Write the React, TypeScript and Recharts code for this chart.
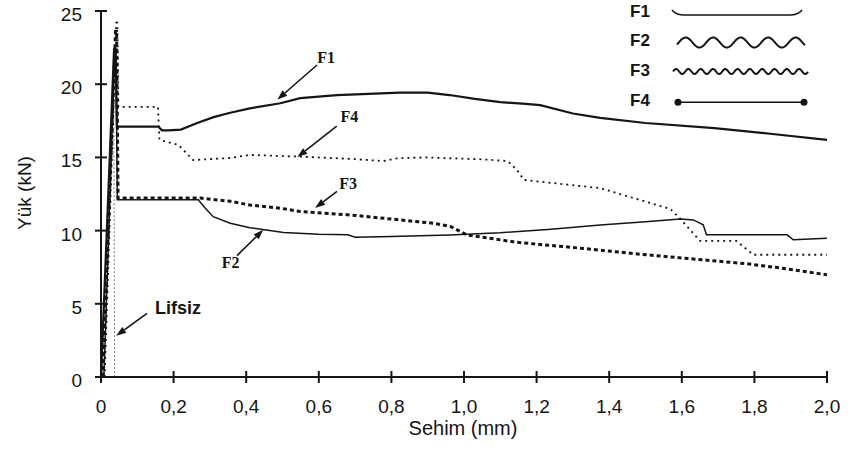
import { LineChart, Line, XAxis, YAxis, ReferenceLine } from "recharts";

// load–deflection curves, x = Sehim (mm), y = Yük (kN)
const F1 = [
  { x: 0, y: 0 }, { x: 0.036, y: 22.4 }, { x: 0.04, y: 22.4 }, { x: 0.044, y: 17.1 },
  { x: 0.158, y: 17.1 }, { x: 0.168, y: 16.85 }, { x: 0.185, y: 16.85 }, { x: 0.22, y: 16.9 },
  { x: 0.265, y: 17.35 }, { x: 0.31, y: 17.75 }, { x: 0.356, y: 18.05 }, { x: 0.41, y: 18.35 },
  { x: 0.494, y: 18.7 }, { x: 0.549, y: 19.05 }, { x: 0.65, y: 19.25 }, { x: 0.824, y: 19.42 },
  { x: 0.9, y: 19.42 }, { x: 0.96, y: 19.26 }, { x: 1.03, y: 19.0 }, { x: 1.1, y: 18.78 },
  { x: 1.17, y: 18.65 }, { x: 1.21, y: 18.57 }, { x: 1.3, y: 18.0 }, { x: 1.375, y: 17.7 },
  { x: 1.5, y: 17.35 }, { x: 1.69, y: 17.0 }, { x: 1.85, y: 16.6 }, { x: 2.0, y: 16.2 },
];

const F2 = [
  { x: 0.008, y: 0 }, { x: 0.038, y: 22.2 }, { x: 0.041, y: 22.2 }, { x: 0.045, y: 12.1 },
  { x: 0.268, y: 12.1 }, { x: 0.285, y: 11.6 }, { x: 0.309, y: 10.95 }, { x: 0.356, y: 10.5 },
  { x: 0.41, y: 10.2 }, { x: 0.503, y: 9.87 }, { x: 0.6, y: 9.75 }, { x: 0.68, y: 9.72 },
  { x: 0.7, y: 9.55 }, { x: 0.8, y: 9.6 }, { x: 0.96, y: 9.7 }, { x: 1.1, y: 9.85 },
  { x: 1.24, y: 10.1 }, { x: 1.375, y: 10.38 }, { x: 1.5, y: 10.6 }, { x: 1.596, y: 10.8 },
  { x: 1.632, y: 10.73 }, { x: 1.659, y: 10.4 }, { x: 1.668, y: 9.71 }, { x: 1.89, y: 9.71 },
  { x: 1.907, y: 9.37 }, { x: 2.0, y: 9.48 },
];

const F3 = [
  { x: 0.005, y: 0 }, { x: 0.04, y: 23.6 }, { x: 0.043, y: 23.6 }, { x: 0.047, y: 12.22 },
  { x: 0.274, y: 12.22 }, { x: 0.356, y: 12.0 }, { x: 0.41, y: 11.75 }, { x: 0.494, y: 11.53 },
  { x: 0.549, y: 11.3 }, { x: 0.687, y: 11.07 }, { x: 0.824, y: 10.73 }, { x: 0.916, y: 10.5 },
  { x: 0.963, y: 10.28 }, { x: 1.009, y: 9.7 }, { x: 1.146, y: 9.2 }, { x: 1.32, y: 8.8 },
  { x: 1.505, y: 8.34 }, { x: 1.659, y: 8.0 }, { x: 1.78, y: 7.73 }, { x: 1.87, y: 7.45 },
  { x: 2.0, y: 6.98 },
];

const F4 = [
  { x: 0.01, y: 0 }, { x: 0.042, y: 24.2 }, { x: 0.045, y: 24.2 }, { x: 0.048, y: 18.45 },
  { x: 0.157, y: 18.45 }, { x: 0.161, y: 16.2 }, { x: 0.213, y: 15.85 }, { x: 0.254, y: 14.82 },
  { x: 0.356, y: 14.96 }, { x: 0.41, y: 15.17 }, { x: 0.549, y: 15.05 }, { x: 0.687, y: 14.9 },
  { x: 0.778, y: 14.75 }, { x: 0.816, y: 14.94 }, { x: 0.89, y: 15.0 }, { x: 1.05, y: 14.87 },
  { x: 1.12, y: 14.75 }, { x: 1.146, y: 14.14 }, { x: 1.165, y: 13.46 }, { x: 1.375, y: 12.9 },
  { x: 1.568, y: 11.48 }, { x: 1.6, y: 10.7 }, { x: 1.65, y: 9.3 }, { x: 1.75, y: 9.3 },
  { x: 1.797, y: 8.35 }, { x: 2.0, y: 8.35 },
];

const LIFSIZ = [{ x: 0.003, y: 0 }, { x: 0.035, y: 21.5 }, { x: 0.0375, y: 0 }];

const X_TICKS = [0, 0.2, 0.4, 0.6, 0.8, 1.0, 1.2, 1.4, 1.6, 1.8, 2.0];
const Y_TICKS = [0, 5, 10, 15, 20, 25];

// [label, labelPos, arrowTip]
const NOTES = [
  { text: "F1", at: [0.62, 21.85], tip: [0.486, 18.95], gap: 12, anchor: "middle", serif: true },
  { text: "F4", at: [0.684, 17.82], tip: [0.541, 15.02], gap: 16, anchor: "middle", serif: true },
  { text: "F3", at: [0.681, 13.25], tip: [0.59, 11.55], gap: 14, anchor: "middle", serif: true },
  { text: "F2", at: [0.357, 7.86], tip: [0.447, 10.05], gap: 9, anchor: "middle", serif: true },
  { text: "Lifsiz", at: [0.149, 4.75], tip: [0.042, 2.82], gap: 10, anchor: "start", serif: false },
];

const INK = "#151515";
const SANS = "'Liberation Sans', Arial, sans-serif";

const fmt = (v: number) => (v === 0 ? "0" : v.toFixed(1).replace(".", ","));

const XTick = (props: any) => {
  const { x, y, payload } = props;
  return (
    <g>
      <line x1={x} x2={x} y1={y - 6} y2={y + 6} stroke={INK} strokeWidth={2} />
      <text x={x} y={y + 36} textAnchor="middle" fontSize={19} fontFamily={SANS} fill={INK}>
        {fmt(payload.value)}
      </text>
    </g>
  );
};

const YTick = (props: any) => {
  const { x, y, payload } = props;
  return (
    <g>
      <line x1={x - 6} x2={x + 6} y1={y} y2={y} stroke={INK} strokeWidth={2} />
      <text x={x - 19} y={y + 10} textAnchor="end" fontSize={19} fontFamily={SANS} fill={INK}>
        {payload.value}
      </text>
    </g>
  );
};

const arrowShape = (note: any) => (p: any) => {
  const { x1, y1, x2, y2 } = p;
  const dx = x2 - x1;
  const dy = y2 - y1;
  const len = Math.hypot(dx, dy) || 1;
  const ux = dx / len;
  const uy = dy / len;
  const sx = x1 + ux * note.gap;
  const sy = y1 + uy * note.gap;
  const bx = x2 - ux * 10;
  const by = y2 - uy * 10;
  const hw = 3.5;
  return (
    <g>
      <line x1={sx} y1={sy} x2={bx} y2={by} stroke={INK} strokeWidth={1.6} />
      <polygon
        points={`${x2},${y2} ${bx - uy * hw},${by + ux * hw} ${bx + uy * hw},${by - ux * hw}`}
        fill={INK}
      />
      <text
        x={x1}
        y={y1}
        dy="0.35em"
        textAnchor={note.anchor}
        fontSize={note.serif ? 16 : 18}
        fontWeight="bold"
        fontFamily={note.serif ? "'Liberation Serif', 'Times New Roman', serif" : SANS}
        fill={INK}
      >
        {note.text}
      </text>
    </g>
  );
};

// little fibre glyphs for the legend
const wave = (x0: number, x1: number, yc: number, amp: number, period: number, phase: number) => {
  let d = "";
  for (let x = x0; x <= x1; x += 0.5) {
    const y = yc - amp * Math.sin(((x - x0) / period) * 2 * Math.PI + phase);
    d += (d ? " L" : "M") + x.toFixed(1) + "," + y.toFixed(2);
  }
  return d;
};

function Legend() {
  const labels = ["F1", "F2", "F3", "F4"];
  const ys = [10.5, 40, 70, 99.5];
  return (
    <g>
      {labels.map((l, i) => (
        <text key={l} x={630} y={ys[i] + 6} fontSize={17} fontWeight="bold" fontFamily={SANS} fill={INK}>
          {l}
        </text>
      ))}
      <path d="M672,10 Q676,15 684,15 L790,15 Q798,15 802,10" fill="none" stroke={INK} strokeWidth={1.5} />
      <path d={wave(677, 805, 42.5, 5, 27.5, -0.4)} fill="none" stroke={INK} strokeWidth={2} />
      <path d={wave(673, 808, 71.5, 2.5, 12.3, 0)} fill="none" stroke={INK} strokeWidth={2} />
      <line x1={678} x2={804} y1={102.3} y2={102.3} stroke={INK} strokeWidth={1.5} />
      <circle cx={678} cy={102.3} r={3.5} fill={INK} />
      <circle cx={804} cy={102.3} r={3.5} fill={INK} />
    </g>
  );
}

export default function App() {
  return (
    <div style={{ position: "absolute", left: 0, top: 0, width: 857, height: 450, background: "#fff" }}>
      <LineChart width={857} height={450} margin={{ top: 11, right: 30, bottom: 43, left: 0 }}>
        <XAxis
          type="number"
          dataKey="x"
          domain={[0, 2]}
          ticks={X_TICKS}
          interval={0}
          height={30}
          tickSize={0}
          tickMargin={0}
          tickLine={false}
          tick={<XTick />}
          axisLine={{ stroke: INK, strokeWidth: 2 }}
          allowDataOverflow
        />
        <YAxis
          type="number"
          dataKey="y"
          domain={[0, 25]}
          ticks={Y_TICKS}
          interval={0}
          width={101}
          tickSize={0}
          tickMargin={0}
          tickLine={false}
          tick={<YTick />}
          axisLine={{ stroke: INK, strokeWidth: 2 }}
          allowDataOverflow
        />
        <Line data={LIFSIZ} dataKey="y" type="linear" stroke="#777" strokeWidth={1} strokeDasharray="2 2" dot={false} isAnimationActive={false} />
        <Line data={F4} dataKey="y" type="linear" stroke={INK} strokeWidth={1.8} strokeDasharray="2 4" dot={false} isAnimationActive={false} />
        <Line data={F3} dataKey="y" type="linear" stroke={INK} strokeWidth={3} strokeDasharray="4 3" dot={false} isAnimationActive={false} />
        <Line data={F2} dataKey="y" type="linear" stroke={INK} strokeWidth={1.5} dot={false} isAnimationActive={false} />
        <Line data={F1} dataKey="y" type="linear" stroke={INK} strokeWidth={2.2} dot={false} isAnimationActive={false} />
        {NOTES.map((n) => (
          <ReferenceLine
            key={n.text}
            segment={[{ x: n.at[0], y: n.at[1] }, { x: n.tip[0], y: n.tip[1] }]}
            ifOverflow="visible"
            shape={arrowShape(n)}
          />
        ))}
      </LineChart>
      <svg width={857} height={450} style={{ position: "absolute", left: 0, top: 0, pointerEvents: "none" }}>
        <Legend />
        <text x={463} y={435} textAnchor="middle" fontSize={20} fontFamily={SANS} fill={INK}>
          Sehim (mm)
        </text>
        <text x={31} y={193} transform="rotate(-90, 31, 193)" textAnchor="middle" fontSize={19} fontFamily={SANS} fill={INK}>
          Yük (kN)
        </text>
      </svg>
    </div>
  );
}
